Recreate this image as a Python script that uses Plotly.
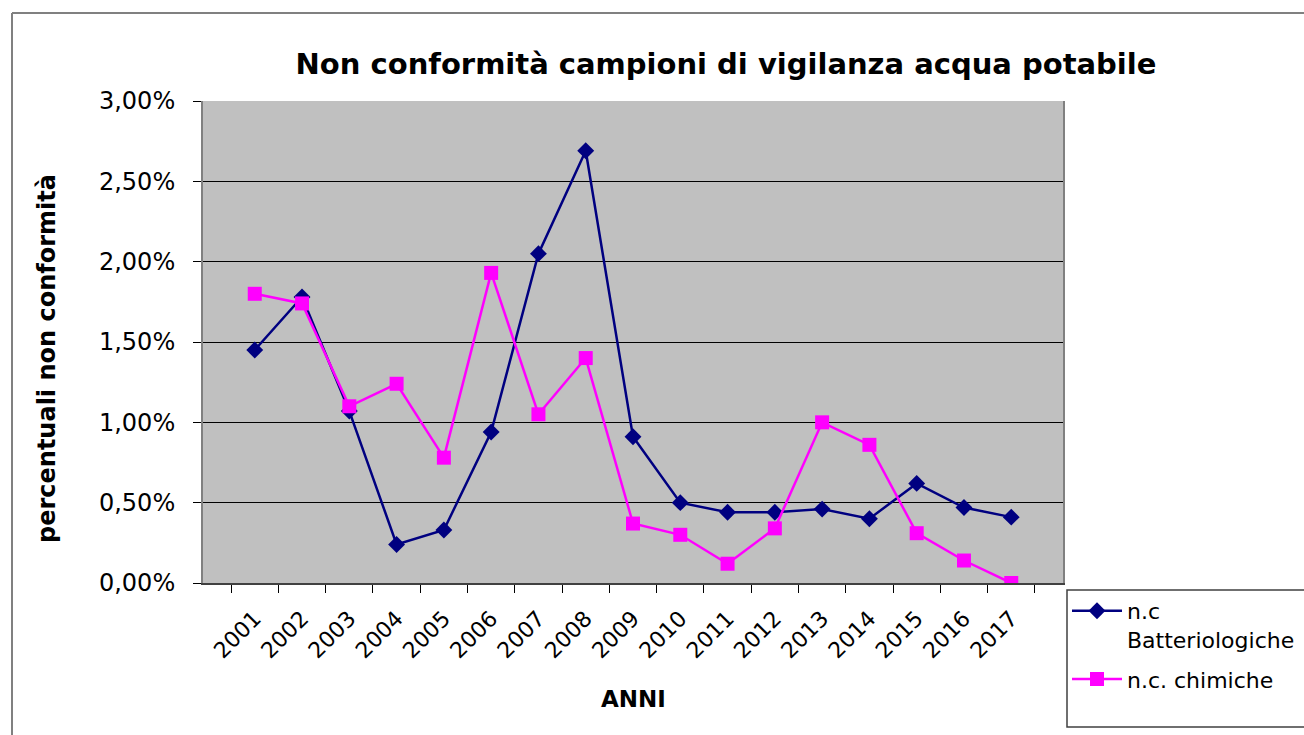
import plotly.graph_objects as go

anni = ["2001", "2002", "2003", "2004", "2005", "2006", "2007", "2008", "2009",
        "2010", "2011", "2012", "2013", "2014", "2015", "2016", "2017"]
batteriologiche = [1.45, 1.78, 1.07, 0.24, 0.33, 0.94, 2.05, 2.69, 0.91,
                   0.50, 0.44, 0.44, 0.46, 0.40, 0.62, 0.47, 0.41]
chimiche = [1.80, 1.74, 1.10, 1.24, 0.78, 1.93, 1.05, 1.40, 0.37,
            0.30, 0.12, 0.34, 1.00, 0.86, 0.31, 0.14, 0.00]
y_ticks = [0.0, 0.5, 1.0, 1.5, 2.0, 2.5, 3.0]
y_ticktext = [f"{v:.2f}%".replace(".", ",") for v in y_ticks]

FONT = "DejaVu Sans"
W, H = 1304, 735
L, R, T, B = 203, 241, 101, 152
pw, ph = W - L - R, H - T - B

fig = go.Figure()
fig.add_trace(go.Scatter(
    x=anni, y=batteriologiche, name="n.c<br>Batteriologiche", mode="lines+markers",
    legendgroup="a",
    line=dict(color="#000080", width=2.5),
    marker=dict(symbol="diamond", size=13, color="#000080"),
))
fig.add_trace(go.Scatter(
    x=anni, y=chimiche, name="n.c. chimiche", mode="lines+markers",
    legendgroup="b",
    line=dict(color="#FF00FF", width=2.5),
    marker=dict(symbol="square", size=14, color="#FF00FF"),
))

def px_x(p):
    return (p - L) / pw

def px_y(p):
    return (H - B - p) / ph

fig.update_layout(
    width=W, height=H,
    margin=dict(l=L, r=R, t=T, b=B, autoexpand=False),
    paper_bgcolor="white",
    plot_bgcolor="#C0C0C0",
    font=dict(family=FONT, color="black", size=20),
    title=dict(text="<b>Non conformità campioni di vigilanza acqua potabile</b>",
               x=726 / W, xanchor="center", y=1 - 64 / H, yanchor="middle",
               font=dict(family=FONT, size=29, color="black")),
    xaxis=dict(
        type="category", tickson="boundaries", ticks="outside", ticklen=8,
        tickcolor="black", tickangle=-45, showgrid=False,
        showline=True, linecolor="#404040", linewidth=2, mirror=False,
        ticklabelstandoff=12, ticklabelshift=0, automargin=False,
        tickfont=dict(family=FONT, size=22, color="black"),
    ),
    yaxis=dict(
        range=[0, 3], tickvals=y_ticks, ticktext=y_ticktext,
        ticks="outside", ticklen=8, tickcolor="black",
        showgrid=True, gridcolor="black", gridwidth=1,
        showline=True, linecolor="#808080", linewidth=2, mirror=True,
        zeroline=False, ticklabelstandoff=13, automargin=False,
        tickfont=dict(family=FONT, size=24, color="black"),
    ),
    legend=dict(
        x=px_x(1067), y=px_y(590), xanchor="left", yanchor="top",
        borderwidth=0, bgcolor="rgba(0,0,0,0)", valign="top",
        itemwidth=50, tracegroupgap=8, traceorder="grouped",
        font=dict(family=FONT, size=22, color="black"),
    ),
    showlegend=True,
)

# axis titles
fig.add_annotation(text="<b>ANNI</b>", xref="paper", yref="paper",
                   x=px_x(633), y=px_y(699), xanchor="center", yanchor="middle",
                   showarrow=False, font=dict(family=FONT, size=23, color="black"))
fig.add_annotation(text="<b>percentuali non conformità</b>", xref="paper", yref="paper",
                   x=px_x(47), y=px_y(359), xanchor="center", yanchor="middle",
                   textangle=-90, showarrow=False,
                   font=dict(family=FONT, size=24, color="black"))

# outer chart frame (top and left edges visible)
fig.add_shape(type="line", xref="paper", yref="paper",
              x0=px_x(12), x1=px_x(W + 5), y0=px_y(13), y1=px_y(13),
              line=dict(color="#808080", width=2))
fig.add_shape(type="line", xref="paper", yref="paper",
              x0=px_x(12), x1=px_x(12), y0=px_y(13), y1=px_y(H + 5),
              line=dict(color="#808080", width=2))
# legend frame
fig.add_shape(type="rect", xref="paper", yref="paper",
              x0=px_x(1067), x1=px_x(W + 10), y0=px_y(590), y1=px_y(727),
              line=dict(color="#404040", width=1.5), fillcolor="rgba(0,0,0,0)")

fig.write_html("out.html", config={"displayModeBar": False},
               post_script="document.body.style.margin='0';document.body.style.overflow='hidden';")
